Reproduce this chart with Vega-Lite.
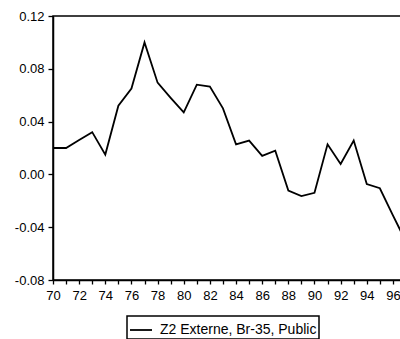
{
  "$schema": "https://vega.github.io/schema/vega-lite/v6.json",
  "autosize": "none",
  "padding": {"left": 53, "top": 16, "right": 0, "bottom": 59},
  "width": 353,
  "height": 264,
  "background": "white",
  "config": {
    "font": "Liberation Sans",
    "view": {"stroke": "black", "strokeWidth": 1.5},
    "legend": {"strokeWidth": 1.5},
    "axis": {
      "domainColor": "black",
      "domainWidth": 1.5,
      "tickColor": "black",
      "tickWidth": 1.3,
      "labelColor": "black",
      "labelFont": "Liberation Sans",
      "labelFontSize": 13,
      "grid": false,
      "title": null
    }
  },
  "data": {
    "values": [
      {"year": 70, "value": 0.020, "series": "Z2 Externe, Br-35, Public"},
      {"year": 71, "value": 0.020, "series": "Z2 Externe, Br-35, Public"},
      {"year": 72, "value": 0.026, "series": "Z2 Externe, Br-35, Public"},
      {"year": 73, "value": 0.032, "series": "Z2 Externe, Br-35, Public"},
      {"year": 74, "value": 0.015, "series": "Z2 Externe, Br-35, Public"},
      {"year": 75, "value": 0.052, "series": "Z2 Externe, Br-35, Public"},
      {"year": 76, "value": 0.065, "series": "Z2 Externe, Br-35, Public"},
      {"year": 77, "value": 0.100, "series": "Z2 Externe, Br-35, Public"},
      {"year": 78, "value": 0.0695, "series": "Z2 Externe, Br-35, Public"},
      {"year": 79, "value": 0.058, "series": "Z2 Externe, Br-35, Public"},
      {"year": 80, "value": 0.047, "series": "Z2 Externe, Br-35, Public"},
      {"year": 81, "value": 0.068, "series": "Z2 Externe, Br-35, Public"},
      {"year": 82, "value": 0.0665, "series": "Z2 Externe, Br-35, Public"},
      {"year": 83, "value": 0.050, "series": "Z2 Externe, Br-35, Public"},
      {"year": 84, "value": 0.0228, "series": "Z2 Externe, Br-35, Public"},
      {"year": 85, "value": 0.0256, "series": "Z2 Externe, Br-35, Public"},
      {"year": 86, "value": 0.014, "series": "Z2 Externe, Br-35, Public"},
      {"year": 87, "value": 0.018, "series": "Z2 Externe, Br-35, Public"},
      {"year": 88, "value": -0.0123, "series": "Z2 Externe, Br-35, Public"},
      {"year": 89, "value": -0.0164, "series": "Z2 Externe, Br-35, Public"},
      {"year": 90, "value": -0.0139, "series": "Z2 Externe, Br-35, Public"},
      {"year": 91, "value": 0.0228, "series": "Z2 Externe, Br-35, Public"},
      {"year": 92, "value": 0.0079, "series": "Z2 Externe, Br-35, Public"},
      {"year": 93, "value": 0.0256, "series": "Z2 Externe, Br-35, Public"},
      {"year": 94, "value": -0.0073, "series": "Z2 Externe, Br-35, Public"},
      {"year": 95, "value": -0.0105, "series": "Z2 Externe, Br-35, Public"},
      {"year": 96, "value": -0.031, "series": "Z2 Externe, Br-35, Public"},
      {"year": 97, "value": -0.051, "series": "Z2 Externe, Br-35, Public"}
    ]
  },
  "mark": {"type": "line", "strokeWidth": 1.8, "clip": true},
  "encoding": {
    "x": {
      "field": "year",
      "type": "quantitative",
      "scale": {"domain": [70, 97], "nice": false, "zero": false},
      "axis": {
        "values": [70,71,72,73,74,75,76,77,78,79,80,81,82,83,84,85,86,87,88,89,90,91,92,93,94,95,96,97],
        "labelExpr": "datum.value % 2 == 0 ? datum.label : ''",
        "labelFontSize": 13,
        "tickSize": 4,
        "labelPadding": 5,
        "labelFlush": false,
        "labelOverlap": false
      }
    },
    "y": {
      "field": "value",
      "type": "quantitative",
      "scale": {"domain": [-0.08, 0.12], "nice": false, "zero": false},
      "axis": {
        "values": [-0.08, -0.04, 0, 0.04, 0.08, 0.12],
        "labelExpr": "replace(format(datum.value, '.2f'), '\u2212', '-')",
        "labelFontSize": 13,
        "tickSize": 5,
        "labelPadding": 4,
        "labelFlush": false,
        "labelOverlap": false
      }
    },
    "color": {
      "field": "series",
      "type": "nominal",
      "scale": {"range": ["black"]},
      "legend": {
        "title": null,
        "orient": "none",
        "legendX": 74,
        "legendY": 300,
        "symbolType": "stroke",
        "symbolSize": 484,
        "symbolStrokeWidth": 1.8,
        "labelFont": "Liberation Sans",
        "labelFontSize": 14,
        "labelColor": "black",
        "labelOffset": 7,
        "strokeColor": "black",
        "fillColor": "white",
        "padding": 2
      }
    }
  }
}
